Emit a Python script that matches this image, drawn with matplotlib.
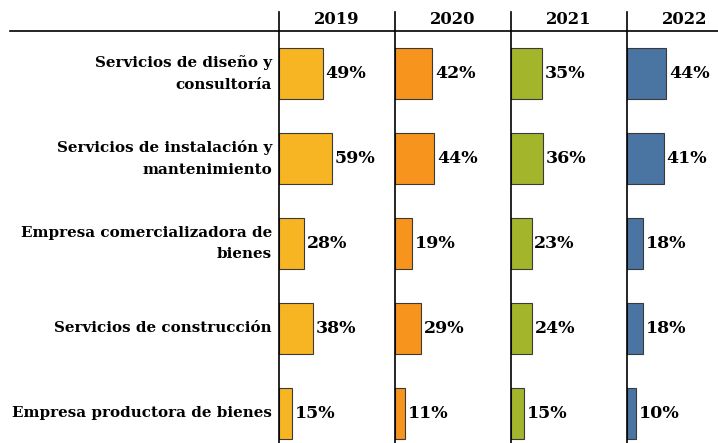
import matplotlib.pyplot as plt
import numpy as np
from matplotlib.lines import Line2D

# Datos del grafico
categorias = ["Servicios de diseño y\nconsultoría",
              "Servicios de instalación y\nmantenimiento",
              "Empresa comercializadora de\nbienes",
              "Servicios de construcción",
              "Empresa productora de bienes"]
anios = ["2019", "2020", "2021", "2022"]
v2019 = [49, 59, 28, 38, 15]
v2020 = [42, 44, 19, 29, 11]
v2021 = [35, 36, 23, 24, 15]
v2022 = [44, 41, 18, 18, 10]
valores = [v2019, v2020, v2021, v2022]
colores = ["#F7B524", "#F7941D", "#A3B52A", "#4A74A2"]

W, H = 718, 443
fig = plt.figure(figsize=(W / 100, H / 100), dpi=100)
fuente = "DejaVu Serif"

x_paneles = [279, 395, 511, 627]
ancho = 116
y_top = 31

for i, x0 in enumerate(x_paneles):
    ax = fig.add_axes([x0 / W, 0, ancho / W, (H - y_top) / H])
    y = np.arange(len(categorias))
    ax.barh(y, valores[i], height=0.6, color=colores[i], edgecolor="#3a3a3a", linewidth=0.8)
    for yy, v in zip(y, valores[i]):
        ax.text(v + 3, yy, f"{v}%", va="center", ha="left", fontsize=12.5,
                fontweight="bold", family=fuente)
    ax.set_xlim(0, 130)
    ax.set_ylim(4.35, -0.5)
    ax.axis("off")
    fig.text((x0 + ancho / 2) / W, 1 - 19 / H, anios[i], ha="center", va="center",
             fontsize=11.8, fontweight="bold", family=fuente)
    # linea vertical del panel
    fig.add_artist(Line2D([x0 / W, x0 / W], [0, 1 - 12 / H], color="black", lw=1.2))

    if i == 0:
        for yy, c in zip(y, categorias):
            ax.text(-7 / ancho * 130, yy, c, ha="right", va="center", fontsize=10.9,
                    fontweight="bold", family=fuente, linespacing=1.7)

# linea horizontal superior
fig.add_artist(Line2D([10 / W, 1], [1 - y_top / H, 1 - y_top / H], color="black", lw=1.2))

fig.savefig("out.png", dpi=100)
